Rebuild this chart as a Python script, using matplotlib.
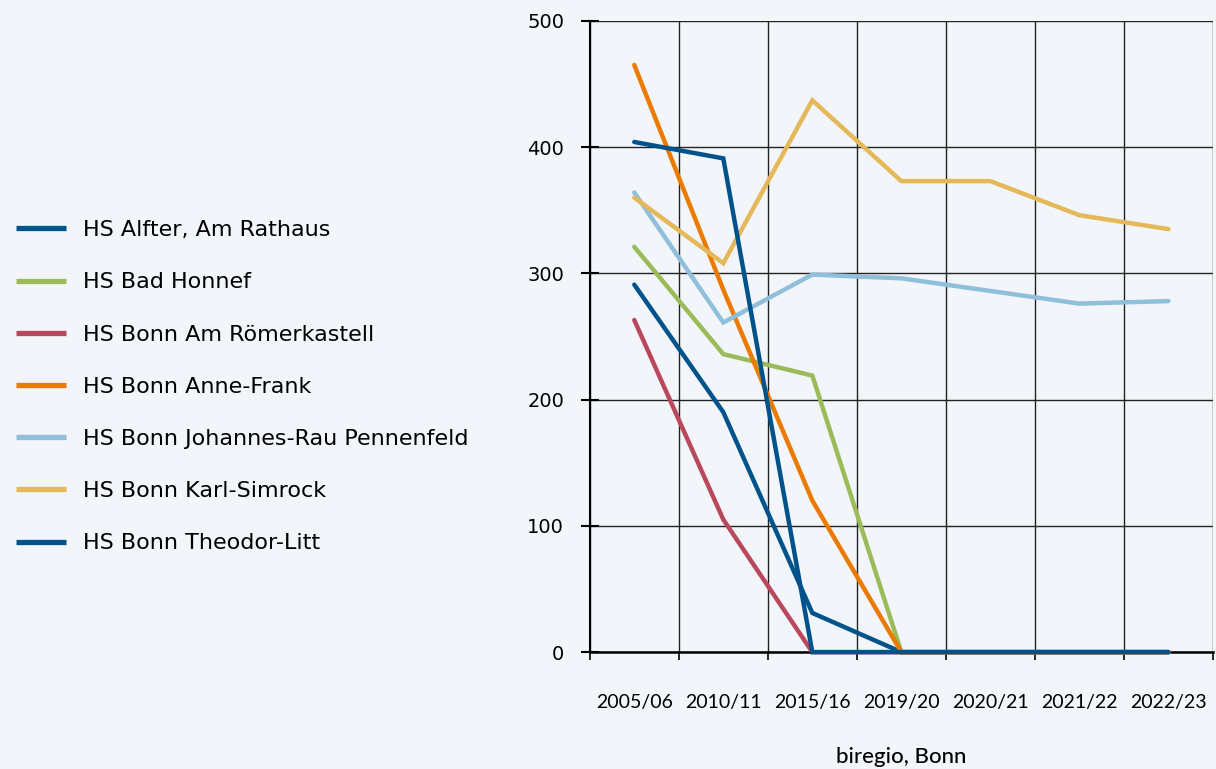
import matplotlib.pyplot as plt
import numpy as np

plt.rcParams['font.family'] = ['Lato', 'DejaVu Sans']

years = ['2005/06', '2010/11', '2015/16', '2019/20', '2020/21', '2021/22', '2022/23']

schulen = ['HS Alfter, Am Rathaus', 'HS Bad Honnef', 'HS Bonn Am Römerkastell',
           'HS Bonn Anne-Frank', 'HS Bonn Johannes-Rau Pennenfeld',
           'HS Bonn Karl-Simrock', 'HS Bonn Theodor-Litt']

alfter = [291, 190, 31, 0, 0, 0, 0]
bad_honnef = [321, 236, 219, 0, 0, 0, 0]
roemerkastell = [263, 105, 0, 0, 0, 0, 0]
anne_frank = [465, 287, 120, 0, 0, 0, 0]
johannes_rau = [364, 261, 299, 296, 286, 276, 278]
karl_simrock = [360, 308, 437, 373, 373, 346, 335]
theodor_litt = [404, 391, 0, 0, 0, 0, 0]

werte = [alfter, bad_honnef, roemerkastell, anne_frank, johannes_rau, karl_simrock, theodor_litt]
farben = ['#00538a', '#9bbb59', '#b9485c', '#ea7a00', '#8fbfdb', '#e5b85a', '#00538a']

bg = '#f2f5f9'
fig = plt.figure(figsize=(12.16, 7.69), dpi=100, facecolor=bg)
ax = fig.add_axes([0.485, 0.152, 0.5125, 0.821])
ax.set_facecolor(bg)

x = np.arange(len(years))
for name, vals, col in zip(schulen, werte, farben):
    ax.plot(x, vals, color=col, lw=3.2, label=name, solid_capstyle='round',
            solid_joinstyle='miter', zorder=3, clip_on=False)

ax.set_xlim(-0.5, len(years) - 0.5)
ax.set_ylim(0, 500)

# Beschriftung in der Mitte, Striche an den Grenzen
ax.set_xticks(x)
ax.set_xticklabels(years, fontsize=14)
ax.set_xticks(np.arange(-0.5, len(years)), minor=True)
ax.tick_params(axis='x', which='major', length=0, pad=30)
ax.tick_params(axis='x', which='minor', length=6, width=1.2, direction='out', color='black')
ax.set_yticks([0, 100, 200, 300, 400, 500])
ax.set_yticklabels([0, 100, 200, 300, 400, 500], family=['DejaVu Sans'])
ax.tick_params(axis='y', which='major', length=13, width=1.5, direction='inout', pad=12,
               labelsize=14)

ax.grid(True, axis='y', which='major', color='#222222', lw=1.0, zorder=1)
ax.grid(True, axis='x', which='minor', color='#222222', lw=1.0, zorder=1)

for s in ['top', 'right']:
    ax.spines[s].set_visible(False)
ax.spines['left'].set_linewidth(1.5)
ax.spines['bottom'].set_linewidth(1.8)

ax.set_xlabel('biregio, Bonn', fontsize=16, fontweight='medium', labelpad=26)

leg = fig.legend(loc='center left', bbox_to_anchor=(0.0, 0.497), frameon=False,
                 prop={'family': 'DejaVu Sans', 'size': 16},
                 handlelength=2.25, handletextpad=0.77, labelspacing=1.45, borderaxespad=0.3)
for h in leg.get_lines():
    h.set_linewidth(3.8)
    h.set_solid_capstyle('butt')

plt.savefig('out.png', dpi=100, facecolor=bg)
